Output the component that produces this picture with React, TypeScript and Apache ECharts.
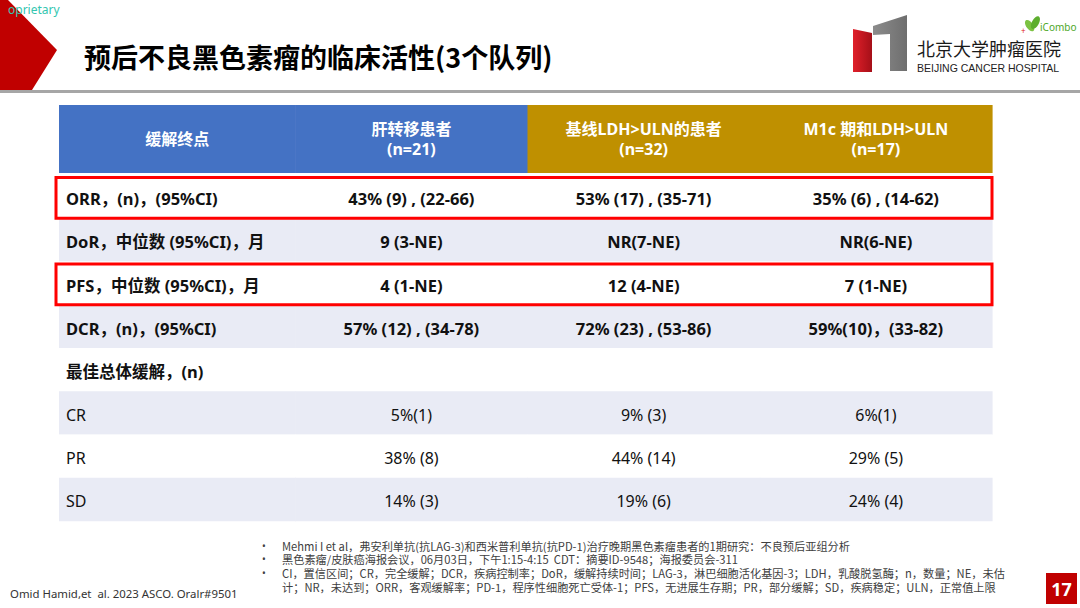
import React, { useEffect, useRef } from "react";
import * as echarts from "echarts";

// ---------- data ----------
const columnHeaders = ["缓解终点", "肝转移患者\n(n=21)", "基线LDH>ULN的患者\n(n=32)", "M1c 期和LDH>ULN\n(n=17)"];
const rowLabels = [
  "ORR，(n)，(95%CI)",
  "DoR，中位数 (95%CI)，月",
  "PFS，中位数 (95%CI)，月",
  "DCR，(n)，(95%CI)",
  "最佳总体缓解，(n)",
  "CR",
  "PR",
  "SD",
];
const liverMets = ["43% (9) , (22-66)", "9 (3-NE)", "4 (1-NE)", "57% (12) , (34-78)", "", "5%(1)", "38% (8)", "14% (3)"];
const ldhAboveUln = ["53% (17) , (35-71)", "NR(7-NE)", "12 (4-NE)", "72% (23) , (53-86)", "", "9% (3)", "44% (14)", "19% (6)"];
const m1cLdhAboveUln = ["35% (6) , (14-62)", "NR(6-NE)", "7 (1-NE)", "59%(10)，(33-82)", "", "6%(1)", "29% (5)", "24% (4)"];
const boldRows = [true, true, true, true, true, false, false, false];
const shadedRows = [false, true, false, true, false, true, false, true];
const highlightedRows = ["ORR，(n)，(95%CI)", "PFS，中位数 (95%CI)，月"];

const title = "预后不良黑色素瘤的临床活性(3个队列)";
const footnotes = [
  "Mehmi I et al，弗安利单抗(抗LAG-3)和西米普利单抗(抗PD-1)治疗晚期黑色素瘤患者的1期研究：不良预后亚组分析",
  "黑色素瘤/皮肤癌海报会议，06月03日，下午1:15-4:15  CDT：摘要ID-9548；海报委员会-311",
  "CI，置信区间；CR，完全缓解；DCR，疾病控制率；DoR，缓解持续时间；LAG-3，淋巴细胞活化基因-3；LDH，乳酸脱氢酶；n，数量；NE，未估",
  "计；NR，未达到；ORR，客观缓解率；PD-1，程序性细胞死亡受体-1；PFS，无进展生存期；PR，部分缓解；SD，疾病稳定；ULN，正常值上限",
];
const footnoteBullets = ["•", "•", "•", ""];
const citation = "Omid Hamid,et  al. 2023 ASCO. Oralr#9501";
const pageNumber = "17";
const cornerLabel = "oprietary";

const FONT = "'Noto Sans', 'Noto Sans CJK SC', sans-serif";
const CJK = "'Noto Sans CJK SC', 'Noto Sans', sans-serif";
const columnValues = [rowLabels, liverMets, ldhAboveUln, m1cLdhAboveUln];

export default function App() {
  const ref = useRef<HTMLDivElement>(null);
  useEffect(() => {
    if (!ref.current) return;
    const chart = echarts.init(ref.current, null, { renderer: "svg" });
    const colCats = columnHeaders.map((_, i) => String(i));

    const headerData = columnHeaders.map((_, i) => [i, 0]);
    const bodyData: number[][] = [];
    rowLabels.forEach((_, r) => {
      for (let c = 0; c < 4; c++) bodyData.push([c, r]);
    });
    const highlightData = highlightedRows.map((l) => [0, rowLabels.indexOf(l)]);

    const hiddenAxis = { show: false, axisLine: { show: false }, axisTick: { show: false }, axisLabel: { show: false }, splitLine: { show: false } };
    const EXT = 4; // first column extends a little further left

    const graphic: any[] = [
      { type: "polygon", shape: { points: [[0, 0], [8, 0], [57, 50], [32, 90], [0, 90]] }, style: { fill: "#C00000" } },
      { type: "text", x: 8, y: 9, style: { text: cornerLabel, fill: "#34C6B0", fontSize: 12, fontFamily: FONT, verticalAlign: "middle" } },
      { type: "rect", shape: { x: 0, y: 90, width: 1080, height: 3 }, style: { fill: "#A6A6A6" } },
      { type: "text", x: 84, y: 56, style: { text: title, fill: "#000", fontSize: 27, fontWeight: "bold", fontFamily: CJK, verticalAlign: "middle" } },
      // logo
      { type: "polygon", shape: { points: [[853, 29], [872, 33], [872, 72], [853, 72]] }, style: { fill: new echarts.graphic.LinearGradient(0, 0, 1, 0, [{ offset: 0, color: "#E0202A" }, { offset: 1, color: "#A50F18" }]) } },
      { type: "polygon", shape: { points: [[873, 26], [907, 15], [907, 71], [890, 71], [890, 34], [873, 35]] }, style: { fill: new echarts.graphic.LinearGradient(0, 0, 1, 0, [{ offset: 0, color: "#8C8C8C" }, { offset: 1, color: "#6E6E6E" }]) } },
      { type: "text", x: 917, y: 48, style: { text: "北京大学肿瘤医院", fill: "#1a1a1a", fontSize: 18, fontFamily: CJK, verticalAlign: "middle" } },
      { type: "text", x: 917, y: 68, style: { text: "BEIJING CANCER HOSPITAL", fill: "#222", fontSize: 10.5, fontFamily: "'Liberation Sans', Arial, sans-serif", verticalAlign: "middle" } },
      { type: "ellipse", shape: { cx: 1030, cy: 26, rx: 3.5, ry: 6.5 }, rotation: 0.6, originX: 1030, originY: 26, style: { fill: "#7CC242" } },
      { type: "ellipse", shape: { cx: 1035, cy: 23, rx: 3.5, ry: 7 }, rotation: -0.5, originX: 1035, originY: 23, style: { fill: "#5DAE2E" } },
      { type: "text", x: 1021, y: 30, style: { text: "+", fill: "#E02020", fontSize: 8, fontFamily: FONT, verticalAlign: "middle" } },
      { type: "text", x: 1040, y: 27, style: { text: "iCombo", fill: "#4FA82A", fontSize: 10, fontFamily: FONT, verticalAlign: "middle" } },
      // page number
      { type: "rect", shape: { x: 1046, y: 573, width: 31, height: 31 }, style: { fill: "#C00000" } },
      { type: "text", x: 1061.5, y: 589, style: { text: pageNumber, fill: "#fff", fontSize: 18, fontWeight: "bold", fontFamily: FONT, align: "center", verticalAlign: "middle" } },
      { type: "text", x: 10, y: 593, style: { text: citation, fill: "#333", fontSize: 11.4, fontFamily: FONT, verticalAlign: "middle" } },
      // footnotes
      { type: "text", x: 262, y: 539, style: { text: footnoteBullets.join("\n"), fill: "#404040", fontSize: 10, lineHeight: 13.6, fontFamily: FONT, verticalAlign: "top" } },
      { type: "text", x: 282, y: 539, style: { text: footnotes.join("\n"), fill: "#404040", fontSize: 11.2, lineHeight: 13.6, fontFamily: CJK, verticalAlign: "top" } },
    ];

    chart.setOption({
      animation: false,
      backgroundColor: "#fff",
      grid: [
        { left: 63, width: 929, top: 105, height: 68 },
        { left: 63, width: 929, top: 175, height: 346 },
      ],
      xAxis: [
        { type: "category", gridIndex: 0, data: colCats, ...hiddenAxis },
        { type: "category", gridIndex: 1, data: colCats, ...hiddenAxis },
      ],
      yAxis: [
        { type: "category", gridIndex: 0, data: ["header"], ...hiddenAxis },
        { type: "category", gridIndex: 1, data: rowLabels, inverse: true, ...hiddenAxis },
      ],
      series: [
        {
          type: "custom",
          xAxisIndex: 0,
          yAxisIndex: 0,
          data: headerData,
          renderItem: (params: any, api: any) => {
            const ci = api.value(0);
            const p = api.coord([ci, 0]);
            const s = api.size([1, 1]);
            const ext = ci === 0 ? EXT : 0;
            return {
              type: "group",
              children: [
                { type: "rect", shape: { x: p[0] - s[0] / 2 - ext, y: p[1] - s[1] / 2, width: s[0] + ext + 0.6, height: s[1] }, style: { fill: ci < 2 ? "#4472C4" : "#BF9000" } },
                { type: "text", x: p[0] - ext / 2, y: p[1], style: { text: columnHeaders[ci], fill: "#fff", fontSize: 16, fontWeight: "bold", fontFamily: FONT, lineHeight: 20, align: "center", verticalAlign: "middle" } },
              ],
            };
          },
        },
        {
          type: "custom",
          xAxisIndex: 1,
          yAxisIndex: 1,
          data: bodyData,
          renderItem: (params: any, api: any) => {
            const ci = api.value(0);
            const ri = api.value(1);
            const p = api.coord([ci, ri]);
            const s = api.size([1, 1]);
            const ext = ci === 0 ? EXT : 0;
            const left = p[0] - s[0] / 2 - ext;
            const bold = boldRows[ri];
            return {
              type: "group",
              children: [
                { type: "rect", shape: { x: left, y: p[1] - s[1] / 2, width: s[0] + ext + 0.6, height: s[1] + 0.3 }, style: { fill: shadedRows[ri] ? "#E9EBF5" : "#FFFFFF" } },
                {
                  type: "text",
                  x: ci === 0 ? left + 7 : p[0],
                  y: p[1] + 2,
                  style: {
                    text: columnValues[ci][ri],
                    fill: "#111",
                    fontSize: bold ? 16.5 : 16,
                    fontWeight: bold ? "bold" : "normal",
                    fontFamily: FONT,
                    align: ci === 0 ? "left" : "center",
                    verticalAlign: "middle",
                  },
                },
              ],
            };
          },
        },
        {
          type: "custom",
          xAxisIndex: 1,
          yAxisIndex: 1,
          z: 5,
          data: highlightData,
          renderItem: (params: any, api: any) => {
            const ri = api.value(1);
            const p = api.coord([0, ri]);
            const s = api.size([1, 1]);
            const x0 = p[0] - s[0] / 2 - EXT - 3;
            return {
              type: "rect",
              shape: { x: x0, y: p[1] - s[1] / 2 + 2.5, width: s[0] * 4 + EXT + 3, height: s[1] - 2.5 },
              style: { fill: "none", stroke: "#FF0000", lineWidth: 3 },
            };
          },
        },
      ],
      graphic,
    });
    return () => chart.dispose();
  }, []);
  return <div ref={ref} style={{ position: "fixed", left: 0, top: 0, width: 1080, height: 608 }} />;
}
